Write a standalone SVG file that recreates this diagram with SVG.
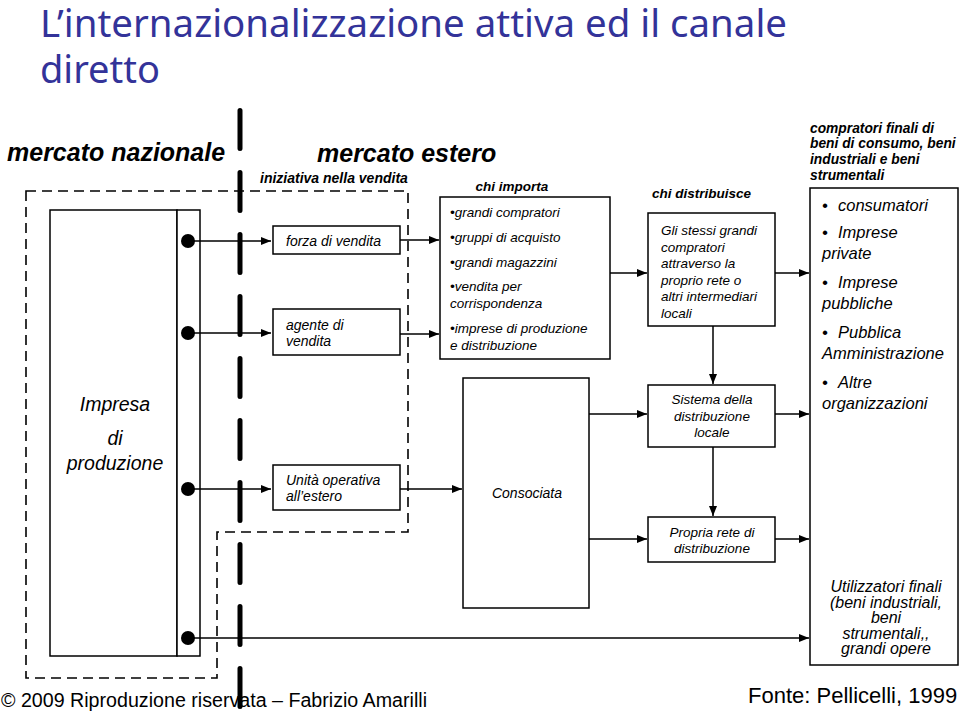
<svg xmlns="http://www.w3.org/2000/svg" width="960" height="712" viewBox="0 0 960 712">
<style>
text{font-family:"Liberation Sans",Arial,sans-serif;fill:#000}
.t{font-family:"Noto Sans","DejaVu Sans",sans-serif;font-size:38px;fill:#333399}
.h{font-weight:bold;font-style:italic}
.i{font-style:italic;font-size:14px}
.s{font-style:italic;font-size:13.5px}
.l{font-style:italic;font-size:16.5px}
.u{font-style:italic;font-size:16px}
.box{fill:#fff;stroke:#000;stroke-width:1.5}
.c{fill:none;stroke:#000;stroke-width:1.5}
.m{text-anchor:middle}
</style>
<defs>
<marker id="a" markerUnits="userSpaceOnUse" markerWidth="11" markerHeight="9" refX="10" refY="4" orient="auto">
<path d="M0,0 L10,4 L0,8 z" fill="#000"/>
</marker>
</defs>
<rect width="960" height="712" fill="#fff"/>
<text class="t" x="40" y="37" textLength="747" lengthAdjust="spacingAndGlyphs">L’internazionalizzazione attiva ed il canale</text>
<text class="t" x="40" y="83">diretto</text>

<text class="h" x="7" y="161" font-size="25">mercato nazionale</text>
<text class="h" x="317" y="162" font-size="25">mercato estero</text>
<text class="h" x="260" y="183" font-size="14">iniziativa nella vendita</text>

<path d="M26 191 H408 V532 H217 V678 H26 Z" fill="none" stroke="#000" stroke-width="1.6" stroke-dasharray="10 6"/>

<g id="impresa">
<rect class="box" x="50" y="210" width="127" height="446"/>
<rect class="box" x="177" y="210" width="23" height="446"/>
<text class="m" x="115" y="411" font-size="19.5" font-style="italic">Impresa</text>
<text class="m" x="115" y="445" font-size="19.5" font-style="italic">di</text>
<text class="m" x="115" y="470" font-size="19.5" font-style="italic">produzione</text>
</g>

<g id="forza">
<rect class="box" x="273" y="226" width="127" height="28"/>
<text class="i" x="286" y="246">forza di vendita</text>
</g>
<g id="agente">
<rect class="box" x="273" y="309" width="127" height="46"/>
<text class="i" x="286" y="330">agente di</text>
<text class="i" x="286" y="346">vendita</text>
</g>
<g id="unita">
<rect class="box" x="273" y="465" width="127" height="45"/>
<text class="i" x="286" y="485">Unità operativa</text>
<text class="i" x="286" y="501">all’estero</text>
</g>

<g id="chi-importa">
<text class="h m" x="512" y="191" font-size="13.5">chi importa</text>
<rect class="box" x="440" y="197" width="170" height="162"/>
<text class="s" x="450" y="217">•grandi compratori</text>
<text class="s" x="450" y="242">•gruppi di acquisto</text>
<text class="s" x="450" y="267">•grandi magazzini</text>
<text class="s" x="450" y="291">•vendita per</text>
<text class="s" x="450" y="308">corrispondenza</text>
<text class="s" x="450" y="333">•imprese di produzione</text>
<text class="s" x="450" y="350">e distribuzione</text>
</g>

<g id="consociata">
<rect class="box" x="463" y="378" width="126" height="230"/>
<text class="i m" x="527" y="498">Consociata</text>
</g>

<g id="chi-distribuisce">
<text class="h" x="652" y="198" font-size="13.5">chi distribuisce</text>
<rect class="box" x="648" y="213" width="127" height="113"/>
<text class="s" x="661" y="235">Gli stessi grandi</text>
<text class="s" x="661" y="251.5">compratori</text>
<text class="s" x="661" y="268">attraverso la</text>
<text class="s" x="661" y="284.5">proprio rete o</text>
<text class="s" x="661" y="301">altri intermediari</text>
<text class="s" x="661" y="317.5">locali</text>
</g>

<g id="sistema">
<rect class="box" x="648" y="385" width="127" height="62"/>
<text class="s m" x="712" y="404">Sistema della</text>
<text class="s m" x="712" y="421">distribuzione</text>
<text class="s m" x="712" y="437">locale</text>
</g>

<g id="propria">
<rect class="box" x="648" y="517" width="127" height="45"/>
<text class="s m" x="712" y="537">Propria rete di</text>
<text class="s m" x="712" y="553">distribuzione</text>
</g>

<g id="compratori">
<text class="h" x="810" y="133" font-size="13.8">compratori finali di</text>
<text class="h" x="810" y="148" font-size="13.8">beni di consumo, beni</text>
<text class="h" x="810" y="164" font-size="13.8">industriali e beni</text>
<text class="h" x="810" y="180" font-size="13.8">strumentali</text>
<rect class="box" x="810" y="188" width="148" height="477"/>
<text class="l" x="822" y="211">•</text><text class="l" x="838" y="211">consumatori</text>
<text class="l" x="822" y="238">•</text><text class="l" x="838" y="238">Imprese</text>
<text class="l" x="822" y="259">private</text>
<text class="l" x="822" y="288">•</text><text class="l" x="838" y="288">Imprese</text>
<text class="l" x="822" y="309">pubbliche</text>
<text class="l" x="822" y="338">•</text><text class="l" x="838" y="338">Pubblica</text>
<text class="l" x="822" y="359">Amministrazione</text>
<text class="l" x="822" y="388">•</text><text class="l" x="838" y="388">Altre</text>
<text class="l" x="822" y="409">organizzazioni</text>
<text class="u m" x="886" y="592">Utilizzatori finali</text>
<text class="u m" x="886" y="607.5">(beni industriali,</text>
<text class="u m" x="886" y="623">beni</text>
<text class="u m" x="886" y="638.5">strumentali,,</text>
<text class="u m" x="886" y="654">grandi opere</text>
</g>

<text x="1" y="707" font-family="'DejaVu Sans','Noto Sans',sans-serif" font-size="20" textLength="426" lengthAdjust="spacingAndGlyphs">© 2009 Riproduzione riservata – Fabrizio Amarilli</text>
<text x="748" y="703" font-size="22">Fonte: Pellicelli, 1999</text>

<g id="connectors">
<path class="c" marker-end="url(#a)" d="M188 241 H271"/>
<path class="c" marker-end="url(#a)" d="M188 333 H271"/>
<path class="c" marker-end="url(#a)" d="M188 489 H271"/>
<path class="c" marker-end="url(#a)" d="M188 638 H809"/>
<path class="c" marker-end="url(#a)" d="M400 240 H439"/>
<path class="c" marker-end="url(#a)" d="M400 334 H439"/>
<path class="c" marker-end="url(#a)" d="M400 489 H462"/>
<path class="c" marker-end="url(#a)" d="M610 273 H647"/>
<path class="c" marker-end="url(#a)" d="M775 273 H809"/>
<path class="c" marker-end="url(#a)" d="M713 326 V384"/>
<path class="c" marker-end="url(#a)" d="M589 414 H647"/>
<path class="c" marker-end="url(#a)" d="M589 539 H647"/>
<path class="c" marker-end="url(#a)" d="M713 447 V516"/>
<path class="c" marker-end="url(#a)" d="M775 414 H809"/>
<path class="c" marker-end="url(#a)" d="M775 539 H809"/>
<circle cx="188" cy="241" r="7"/>
<circle cx="188" cy="333" r="7"/>
<circle cx="188" cy="489" r="7"/>
<circle cx="188" cy="638" r="7"/>
</g>

<path d="M240 110.5 V712" stroke="#000" stroke-width="5" stroke-linecap="round" stroke-dasharray="38 24" fill="none"/>
</svg>
